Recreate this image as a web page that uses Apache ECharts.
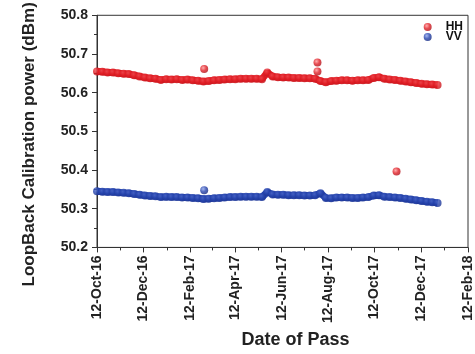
<!DOCTYPE html>
<html>
<head>
<meta charset="utf-8">
<script src="https://cdn.jsdelivr.net/npm/echarts@6/dist/echarts.min.js"></script>
<style>html,body{margin:0;padding:0;background:#fff}#c{width:475px;height:354px}</style>
</head>
<body>
<div id="c"></div>
<script>
// Weekly samples starting 12-Oct-2016
const passStart = [2016, 9, 12];
const passStepDays = 7;
const hhValues = [
  50.655, 50.654, 50.652, 50.652, 50.650, 50.649, 50.648, 50.645, 50.642, 50.639,
  50.637, 50.636, 50.633, 50.635, 50.634, 50.635, 50.633, 50.634, 50.632, 50.631,
  50.629, 50.630, 50.632, 50.633, 50.634, 50.635, 50.635, 50.636, 50.636, 50.636,
  50.636, 50.635, 50.652, 50.642, 50.640, 50.639, 50.639, 50.638, 50.638, 50.637,
  50.637, 50.636, 50.630, 50.627, 50.630, 50.631, 50.632, 50.632, 50.631, 50.632,
  50.632, 50.633, 50.638, 50.640, 50.636, 50.634, 50.633, 50.631, 50.629, 50.627,
  50.625, 50.623, 50.622, 50.621, 50.620
];
const vvValues = [
  50.345, 50.344, 50.343, 50.343, 50.342, 50.341, 50.340, 50.338, 50.336, 50.334,
  50.333, 50.332, 50.330, 50.331, 50.330, 50.330, 50.329, 50.329, 50.328, 50.327,
  50.325, 50.326, 50.327, 50.328, 50.329, 50.330, 50.330, 50.331, 50.331, 50.331,
  50.331, 50.330, 50.343, 50.337, 50.336, 50.336, 50.335, 50.335, 50.335, 50.334,
  50.334, 50.335, 50.340, 50.328, 50.327, 50.329, 50.329, 50.329, 50.328, 50.328,
  50.329, 50.330, 50.334, 50.335, 50.331, 50.330, 50.329, 50.328, 50.326, 50.324,
  50.322, 50.320, 50.318, 50.317, 50.315
];
const hhOutlierDates = [[2017, 2, 2], [2017, 6, 29], [2017, 6, 29], [2017, 10, 10]];
const hhOutlierValues = [50.661, 50.678, 50.655, 50.396];
const vvOutlierDates = [[2017, 2, 2]];
const vvOutlierValues = [50.348];

const tickDates = [[2016,9,12],[2016,11,12],[2017,1,12],[2017,3,12],[2017,5,12],[2017,7,12],[2017,9,12],[2017,11,12],[2018,1,12]];
const tickLabels = ['12-Oct-16','12-Dec-16','12-Feb-17','12-Apr-17','12-Jun-17','12-Aug-17','12-Oct-17','12-Dec-17','12-Feb-18'];
const minorTickDates = [[2016,10,12],[2017,0,12],[2017,2,12],[2017,4,12],[2017,6,12],[2017,8,12],[2017,10,12],[2018,0,12]];

// x positions in days since 12-Oct-2016
const DAY = 86400000;
const t0 = Date.UTC(passStart[0], passStart[1], passStart[2]);
const dayOf = d => Math.round((Date.UTC(d[0], d[1], d[2]) - t0) / DAY);
const sampleDay = i => i * passStepDays;
const tickValues = tickDates.map(dayOf);
const minorValues = minorTickDates.map(dayOf);

function ball(c0, c1, c2) {
  return { type: 'radial', x: 0.38, y: 0.35, r: 0.65,
    colorStops: [{offset: 0, color: c0}, {offset: 0.55, color: c1}, {offset: 1, color: c2}] };
}
const RED = '#e11f26', BLUE = '#2644ad';
const redBall = ball('#ff9a9a', RED, '#b3121a');
const blueBall = ball('#8fa6ee', BLUE, '#172c86');
const redBand = ball('#ee4a50', RED, '#c8161d');
const blueBand = ball('#4a66c8', BLUE, '#1d3594');

const hhBand = hhValues.map((v, i) => [sampleDay(i), v]);
const vvBand = vvValues.map((v, i) => [sampleDay(i), v]);

const font = 'Liberation Sans, Arial, sans-serif';
const chart = echarts.init(document.getElementById('c'));
chart.setOption({
  animation: false,
  grid: { left: 97, right: 6, top: 14, bottom: 105, show: true, borderColor: '#333', borderWidth: 1, backgroundColor: 'transparent' },
  legend: {
    orient: 'vertical', right: 7, top: 16, itemGap: -2, itemWidth: 8, itemHeight: 8,
    icon: 'circle',
    textStyle: { fontFamily: font, fontWeight: 'bold', fontSize: 12, color: '#111', padding: [0, 0, 0, 9] },
    data: ['HH', 'VV']
  },
  xAxis: [{
    type: 'value', min: tickValues[0], max: tickValues[tickValues.length - 1],
    name: 'Date of Pass', nameLocation: 'middle', nameGap: 80,
    nameTextStyle: { fontFamily: font, fontWeight: 'bold', fontSize: 18, color: '#222', padding: [0, 0, 0, 26] },
    axisLine: { lineStyle: { color: '#333', width: 1 } },
    axisTick: { show: true, length: 5, lineStyle: { color: '#333' }, customValues: tickValues },
    axisLabel: {
      customValues: tickValues, rotate: 90, margin: 8,
      fontFamily: font, fontWeight: 'bold', fontSize: 14, color: '#222',
      formatter: v => { const i = tickValues.indexOf(Math.round(v)); return i >= 0 ? tickLabels[i] : ''; }
    },
    splitLine: { show: false }
  }, {
    type: 'value', min: tickValues[0], max: tickValues[tickValues.length - 1], position: 'bottom',
    axisLine: { show: false },
    axisTick: { show: true, length: 3, lineStyle: { color: '#333' }, customValues: minorValues },
    axisLabel: { show: false, customValues: minorValues },
    splitLine: { show: false }
  }],
  yAxis: {
    type: 'value', min: 50.2, max: 50.8, interval: 0.1,
    name: 'LoopBack Calibration power (dBm)', nameLocation: 'middle', nameGap: 59,
    nameTextStyle: { fontFamily: font, fontWeight: 'bold', fontSize: 17, color: '#222', padding: [0, 26, 0, 0] },
    axisLine: { show: true, lineStyle: { color: '#333', width: 1 } },
    axisTick: { show: true, length: 5, lineStyle: { color: '#333' } },
    minorTick: { show: true, splitNumber: 2, length: 3, lineStyle: { color: '#333' } },
    axisLabel: { margin: 9, fontFamily: font, fontWeight: 'bold', fontSize: 14, color: '#222',
      formatter: v => v.toFixed(1) },
    splitLine: { show: false }
  },
  series: [{
    name: 'HH band', type: 'line', data: hhBand, symbol: 'none', silent: true, z: 1,
    lineStyle: { color: RED, width: 7 }
  }, {
    name: 'VV band', type: 'line', data: vvBand, symbol: 'none', silent: true, z: 1,
    lineStyle: { color: BLUE, width: 7 }
  }, {
    name: 'HH', type: 'scatter', symbolSize: 8, z: 2, itemStyle: { color: redBall },
    data: hhBand.map(p => ({ value: p, itemStyle: { color: redBand } }))
      .concat(hhOutlierDates.map((d, i) => [dayOf(d), hhOutlierValues[i]]))
  }, {
    name: 'VV', type: 'scatter', symbolSize: 8, z: 2, itemStyle: { color: blueBall },
    data: vvBand.map(p => ({ value: p, itemStyle: { color: blueBand } }))
      .concat(vvOutlierDates.map((d, i) => [dayOf(d), vvOutlierValues[i]]))
  }]
});
</script>
</body>
</html>
